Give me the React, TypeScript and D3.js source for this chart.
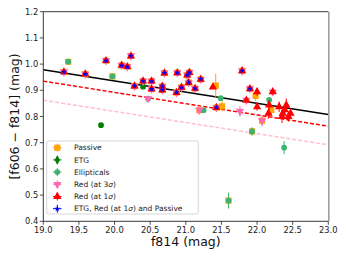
import React from "react";
import * as d3 from "d3";

const W = 346, H = 259;
const M = { left: 43.3, right: 328.3, top: 11.7, bottom: 221.3 };

const xTicks = [19.0, 19.5, 20.0, 20.5, 21.0, 21.5, 22.0, 22.5, 23.0];
const yTicks = [0.4, 0.5, 0.6, 0.7, 0.8, 0.9, 1.0, 1.1, 1.2];

// fit lines: [x0, y0, x1, y1]
const blackLine = [19.0, 0.978, 23.0, 0.808];
const redLine = [19.0, 0.935, 23.0, 0.763];
const pinkLine = [19.0, 0.862, 23.0, 0.692];

// [x, y, yerr]
const passivePts: number[][] = [
  [19.35, 1.009, 0], [19.97, 0.953, 0], [21.19, 0.824, 0], [21.42, 0.918, 0.045],
  [21.51, 0.839, 0.02], [21.98, 0.879, 0.02], [22.07, 0.784, 0.015], [22.2, 0.825, 0.02],
  [21.93, 0.743, 0.015], [21.6, 0.479, 0.03],
];
const etgPts: number[][] = [[19.81, 0.767, 0], [20.4, 0.914, 0]];
const ellPts: number[][] = [
  [19.35, 1.009, 0], [19.97, 0.953, 0], [20.47, 0.868, 0], [21.25, 0.824, 0],
  [21.49, 0.87, 0], [22.17, 0.863, 0.01], [21.93, 0.743, 0.015], [21.6, 0.479, 0.03],
  [22.38, 0.681, 0.025],
];
const red3Pts: number[][] = [
  [20.47, 0.868, 0], [21.19, 0.824, 0], [21.76, 0.82, 0.02], [22.07, 0.784, 0.02],
  [22.22, 0.894, 0], [21.85, 0.862, 0],
];
const red1Pts: number[][] = [
  [21.38, 0.912, 0], [21.85, 0.862, 0], [22.0, 0.894, 0.015], [22.0, 0.837, 0.015],
  [22.16, 0.812, 0.02], [22.17, 0.844, 0.02], [22.22, 0.894, 0.01], [22.31, 0.837, 0.02],
  [22.35, 0.8, 0.025], [22.36, 0.812, 0.02], [22.39, 0.825, 0.02], [22.41, 0.844, 0.025],
  [22.44, 0.8, 0.02], [22.47, 0.812, 0.02],
];
const comboX = [19.29, 19.59, 19.88, 20.1, 20.18, 20.23, 20.28, 20.4, 20.52, 20.52, 20.67, 20.67,
  20.7, 20.88, 20.87, 20.94, 21.02, 21.05, 21.04, 21.13, 21.21, 21.43, 21.79, 21.9];
const comboY = [0.97, 0.962, 1.013, 0.995, 0.99, 1.031, 0.916, 0.935, 0.935, 0.905, 0.915, 0.901,
  0.966, 0.967, 0.891, 0.911, 0.958, 0.968, 0.929, 0.907, 0.942, 0.834, 0.974, 0.906];

const legendLabels = ["Passive", "ETG", "Ellipticals", "Red (at 3\u03c3)", "Red (at 1\u03c3)", "ETG, Red (at 1\u03c3) and Passive"];
const colors = { passive: "orange", etg: "green", ell: "mediumseagreen", red3: "hotpink", red1: "red", combo: "blue" };

const x = d3.scaleLinear().domain([19, 23]).range([M.left, M.right]);
const y = d3.scaleLinear().domain([0.4, 1.2]).range([M.bottom, M.top]);

const sym = {
  square: d3.symbol().type(d3.symbolSquare).size(38)(),
  diamond: d3.symbol().type(d3.symbolDiamond).size(26)(),
  circle: d3.symbol().type(d3.symbolCircle).size(26)(),
  tri: d3.symbol().type(d3.symbolTriangle).size(30)(),
  star: d3.symbol().type(d3.symbolStar).size(11)(),
};

function Marker({ cx, cy, kind, color, rot = 0 }: any) {
  return <path d={(sym as any)[kind]} transform={`translate(${cx},${cy}) rotate(${rot})`} fill={color} />;
}

function Series({ pts, kind, color, rot = 0 }: any) {
  return (
    <g>
      {pts.map((p: number[], i: number) => (
        <g key={i}>
          {p[2] > 0 && (
            <line x1={x(p[0])} x2={x(p[0])} y1={y(p[1] - p[2])} y2={y(p[1] + p[2])} stroke={color} strokeWidth={1} />
          )}
          <Marker cx={x(p[0])} cy={y(p[1])} kind={kind} color={color} rot={rot} />
        </g>
      ))}
    </g>
  );
}

function Label({ text, ...rest }: any) {
  const parts = text.split("\u03c3");
  return (
    <text {...rest}>
      {parts.map((p: string, i: number) => (
        <React.Fragment key={i}>
          {p}
          {i < parts.length - 1 && <tspan fontStyle="italic">{"\u03c3"}</tspan>}
        </React.Fragment>
      ))}
    </text>
  );
}

export default function App() {
  const combo = comboX.map((v, i) => [v, comboY[i], 0]);
  const font = "DejaVu Sans, sans-serif";
  const legItems = [
    { kind: "square", color: colors.passive, rot: 0 },
    { kind: "diamond", color: colors.etg, rot: 0 },
    { kind: "circle", color: colors.ell, rot: 0 },
    { kind: "tri", color: colors.red3, rot: 180 },
    { kind: "tri", color: colors.red1, rot: 0 },
    { kind: "star", color: colors.combo, rot: 0 },
  ];
  const line = (l: number[], color: string, dash: string | undefined, w: number) => (
    <line x1={x(l[0])} y1={y(l[1])} x2={x(l[2])} y2={y(l[3])} stroke={color} strokeWidth={w} strokeDasharray={dash} />
  );
  return (
    <svg width={W} height={H} style={{ position: "absolute", left: 0, top: 0, background: "white" }} fontFamily={font}>
      <defs>
        <clipPath id="clip">
          <rect x={M.left} y={M.top} width={M.right - M.left} height={M.bottom - M.top} />
        </clipPath>
      </defs>
      <g clipPath="url(#clip)">
        {line(blackLine, "black", undefined, 1.5)}
        {line(redLine, "red", "4,2", 1.5)}
        {line(pinkLine, "pink", "4,2", 1.5)}
        <Series pts={passivePts} kind="square" color={colors.passive} />
        <Series pts={combo} kind="square" color={colors.passive} />
        <Series pts={etgPts} kind="circle" color={colors.etg} />
        <Series pts={ellPts} kind="circle" color={colors.ell} />
        <Series pts={red3Pts} kind="tri" color={colors.red3} rot={180} />
        <Series pts={combo} kind="tri" color={colors.red3} rot={180} />
        <Series pts={red1Pts} kind="tri" color={colors.red1} />
        <Series pts={combo} kind="tri" color={colors.red1} />
        <Series pts={combo} kind="star" color={colors.combo} />
      </g>
      {/* frame */}
      <line x1={M.left} x2={M.right} y1={M.top} y2={M.top} stroke="#222" strokeWidth={0.9} />
      <line x1={M.left} x2={M.right} y1={M.bottom} y2={M.bottom} stroke="#222" strokeWidth={0.9} />
      <line x1={M.left} x2={M.left} y1={M.top} y2={M.bottom} stroke="#222" strokeWidth={0.9} />
      <line x1={M.right + 0.5} x2={M.right + 0.5} y1={M.top} y2={M.bottom} stroke="#999" strokeWidth={1.5} />
      {/* x ticks */}
      {xTicks.map((t) => (
        <g key={t}>
          <line x1={x(t)} x2={x(t)} y1={M.bottom} y2={M.bottom + 3.5} stroke="#222" strokeWidth={0.8} />
          <text x={x(t)} y={M.bottom + 12} textAnchor="middle" fontSize={8.3} fill="#222">{t.toFixed(1)}</text>
        </g>
      ))}
      {yTicks.map((t) => (
        <g key={t}>
          <line x1={M.left - 3.5} x2={M.left} y1={y(t)} y2={y(t)} stroke="#222" strokeWidth={0.8} />
          <text x={M.left - 5} y={y(t) + 3} textAnchor="end" fontSize={8.3} fill="#222">{t.toFixed(1)}</text>
        </g>
      ))}
      <text x={(M.left + M.right) / 2} y={246} textAnchor="middle" fontSize={12.5} fill="#111">f814 (mag)</text>
      <text transform={`translate(19,${(M.top + M.bottom) / 2}) rotate(-90)`} textAnchor="middle" fontSize={12.5} fill="#111">
        [f606 − f814] (mag)
      </text>
      {/* legend */}
      <rect x={46.7} y={141} width={151.6} height={73} rx={2} fill="white" fillOpacity={0.85} stroke="#ccc" strokeWidth={0.8} />
      {legendLabels.map((lab, i) => {
        const ly = 147.7 + i * 12.2;
        const it = legItems[i];
        return (
          <g key={lab}>
            <line x1={53} x2={61.5} y1={ly} y2={ly} stroke={it.color} strokeWidth={1} />
            <line x1={57.3} x2={57.3} y1={ly - 4} y2={ly + 4} stroke={it.color} strokeWidth={1} />
            <Marker cx={57.3} cy={ly} kind={it.kind} color={it.color} rot={it.rot} />
            <Label x={74} y={ly + 2.7} fontSize={7.5} fill="#222" text={lab} />
          </g>
        );
      })}
    </svg>
  );
}
